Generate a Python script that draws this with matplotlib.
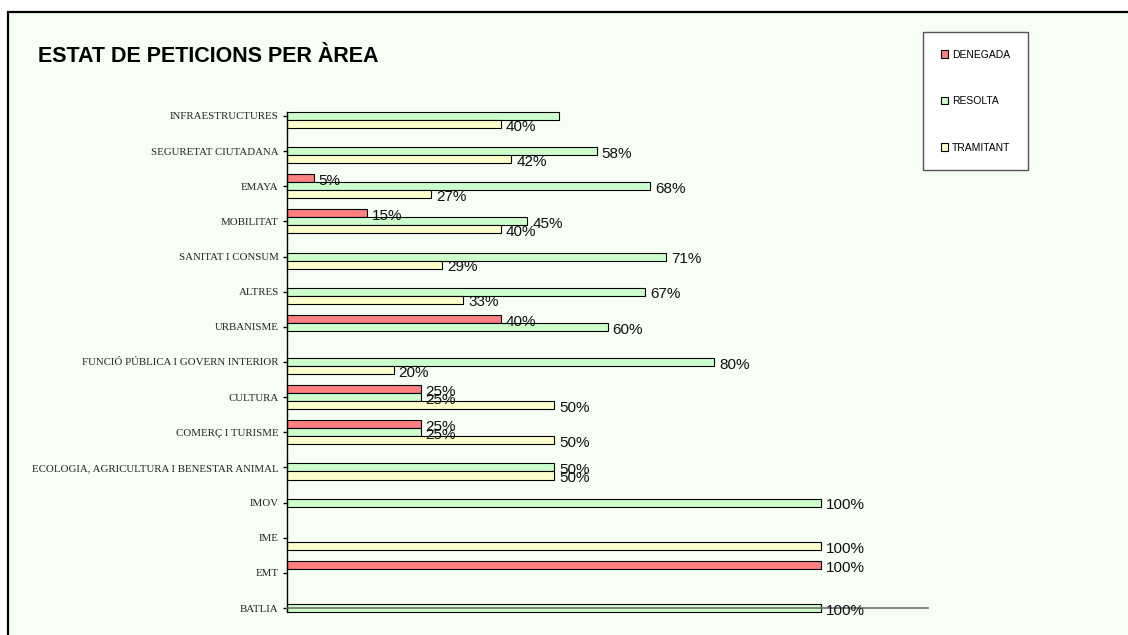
import matplotlib.pyplot as plt
import numpy as np
from matplotlib.patches import Patch, Rectangle

areas = ['INFRAESTRUCTURES', 'SEGURETAT CIUTADANA', 'EMAYA', 'MOBILITAT',
         'SANITAT I CONSUM', 'ALTRES', 'URBANISME',
         'FUNCIÓ PÚBLICA I GOVERN INTERIOR', 'CULTURA', 'COMERÇ I TURISME',
         'ECOLOGIA, AGRICULTURA I BENESTAR ANIMAL', 'IMOV', 'IME', 'EMT', 'BATLIA']
denegada = [0, 0, 5, 15, 0, 0, 40, 0, 25, 25, 0, 0, 0, 100, 0]
resolta = [51, 58, 68, 45, 71, 67, 60, 80, 25, 25, 50, 100, 0, 0, 100]
tramitant = [40, 42, 27, 40, 29, 33, 0, 20, 50, 50, 50, 0, 100, 0, 0]
# the label of this bar is not shown in the original
hidden_labels = [('RESOLTA', 'INFRAESTRUCTURES')]

series = [('DENEGADA', denegada, '#ff8080', -1),
          ('RESOLTA', resolta, '#ccffcc', 0),
          ('TRAMITANT', tramitant, '#ffffcc', 1)]

bg = '#f7fff5'
fig = plt.figure(figsize=(11.28, 6.35), dpi=100)
fig.patch.set_facecolor('white')
fig.patches.append(Rectangle((8 / 1128, -0.1), 1.2, 1 - 12 / 635 + 0.1,
                             transform=fig.transFigure, facecolor=bg,
                             edgecolor='black', linewidth=1.6, zorder=-10))

ax = fig.add_axes([287 / 1128, 1 - 612 / 635, 641 / 1128, 500 / 635])
ax.set_facecolor('none')

y = np.arange(len(areas))
h = 0.228
for name, vals, col, off in series:
    for i, v in enumerate(vals):
        if v <= 0:
            continue
        ax.barh(y[i] + off * h, v, height=h, color=col, edgecolor='black',
                linewidth=0.8, zorder=3, clip_on=False)
        if (name, areas[i]) in hidden_labels:
            continue
        ax.annotate(f'{v}%', (v, y[i] + off * h), xytext=(3.5, -2),
                    textcoords='offset points', ha='left', va='center',
                    fontsize=11, family='Liberation Sans', color='#111111',
                    zorder=6)

ax.set_xlim(0, 120)
ax.set_ylim(len(areas) - 1 + 0.11, -0.11)
ax.set_yticks(y)
ax.set_yticklabels(areas, family='Liberation Serif', fontsize=7.8, color='#222222')
ax.tick_params(axis='y', length=3, width=1, direction='out', pad=3)
ax.set_xticks([])
ax.spines['top'].set_visible(False)
ax.spines['right'].set_visible(False)
ax.spines['left'].set_linewidth(1)
ax.spines['left'].set_zorder(4)
ax.spines['bottom'].set_position(('data', len(areas) - 1))
ax.spines['bottom'].set_color('#707070')
ax.spines['bottom'].set_linewidth(1.2)
ax.spines['bottom'].set_zorder(5)

fig.text(38 / 1128, 1 - 57 / 635, 'ESTAT DE PETICIONS PER ÀREA', family='Liberation Sans',
         fontsize=15.5, fontweight='bold', va='center', ha='left')

handles = [Patch(facecolor=col, edgecolor='black', linewidth=0.8) for _, _, col, _ in series]
leg = fig.legend(handles, [s[0] for s in series], loc='upper left',
                 bbox_to_anchor=(923 / 1128, 1 - 32 / 635),
                 prop={'family': 'Liberation Sans', 'size': 7.5},
                 handlelength=0.7, handleheight=0.7, handletextpad=0.4,
                 labelspacing=3.5, borderpad=1.7, borderaxespad=0,
                 frameon=True, fancybox=False, framealpha=1)
leg.get_frame().set_edgecolor('#555555')
leg.get_frame().set_linewidth(1)

fig.savefig('out.png', dpi=100, facecolor=fig.get_facecolor())
